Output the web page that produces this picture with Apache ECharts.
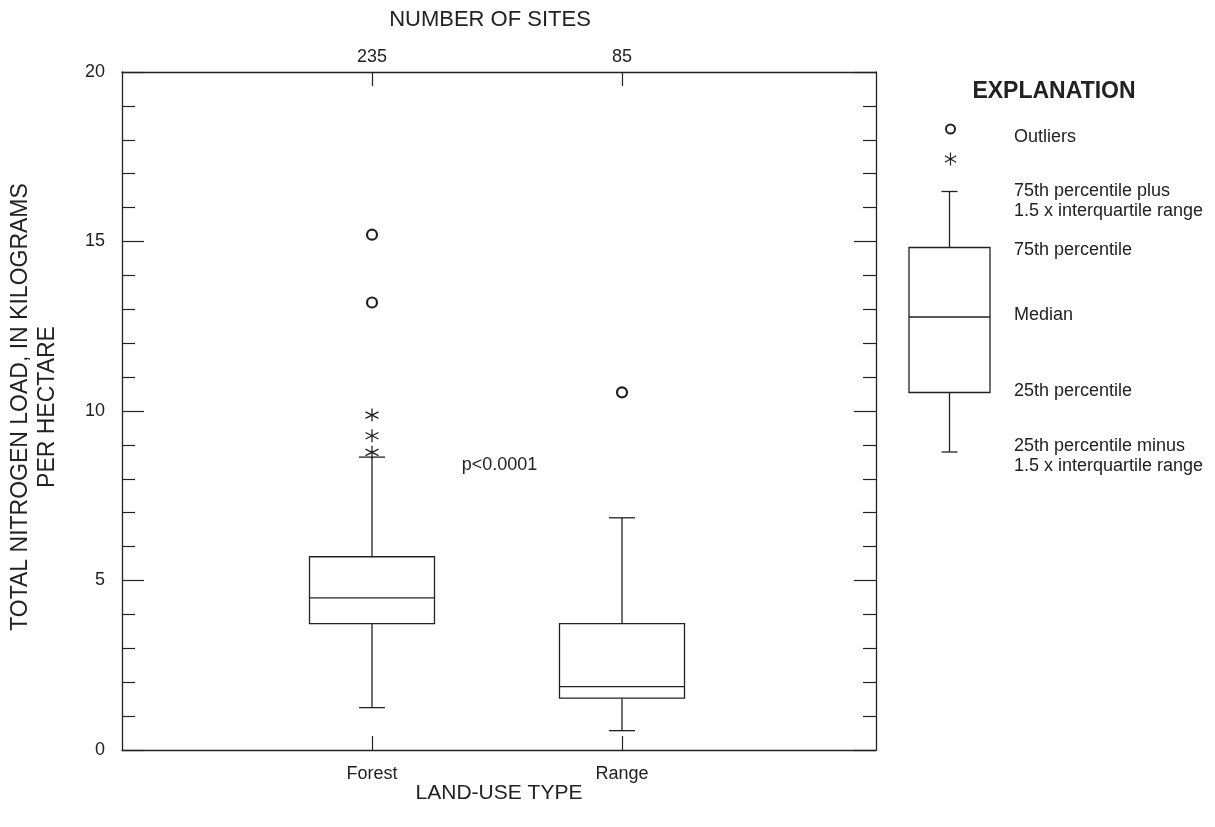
<!DOCTYPE html>
<html>
<head>
<meta charset="utf-8">
<script src="https://cdn.jsdelivr.net/npm/echarts@6/dist/echarts.min.js"></script>
<style>
  html, body { margin: 0; padding: 0; background: #fff; }
  #chart { width: 1215px; height: 827px; }
</style>
</head>
<body>
<div id="chart"></div>
<script>
// Land-use categories and number of sites in each
const categories = ['Forest', 'Range'];
const categoryPositions = [1, 2];
const siteCounts = [235, 85];

// Box statistics: [lower whisker, 25th pct, median, 75th pct, upper whisker]
const forestStats = [1.25, 3.73, 4.49, 5.70, 8.64];
const rangeStats = [0.57, 1.53, 1.87, 3.73, 6.85];

// Outliers beyond the whiskers
const forestCircles = [15.2, 13.2];
const rangeCircles = [10.55];
const forestStars = [9.88, 9.27, 8.78];

// y-axis tick labels
const yTickLabels = [0, 5, 10, 15, 20];

const INK = '#222';
const FONT = '"Liberation Sans", Arial, Helvetica, sans-serif';

const boxData = [
  [categoryPositions[0]].concat(forestStats),
  [categoryPositions[1]].concat(rangeStats)
];
const circleData = forestCircles.map(v => [categoryPositions[0], v])
  .concat(rangeCircles.map(v => [categoryPositions[1], v]));
const starData = forestStars.map(v => [categoryPositions[0], v]);

const starPath = 'path://M0,-10L0,10M-8.66,-5L8.66,5M-8.66,5L8.66,-5';

function renderBox(params, api) {
  const x = api.value(0);
  const lo = api.coord([x, api.value(1)]);
  const q1 = api.coord([x, api.value(2)]);
  const med = api.coord([x, api.value(3)]);
  const q3 = api.coord([x, api.value(4)]);
  const hi = api.coord([x, api.value(5)]);
  const halfW = api.size([0.5, 0])[0] / 2;
  const capHalf = 13;
  const cx = q1[0];
  const style = { stroke: INK, lineWidth: 1.3, fill: null };
  return {
    type: 'group',
    children: [
      { type: 'rect', shape: { x: cx - halfW, y: q3[1], width: 2 * halfW, height: q1[1] - q3[1] }, style: { stroke: INK, lineWidth: 1.3, fill: '#fff' } },
      { type: 'line', shape: { x1: cx - halfW, y1: med[1], x2: cx + halfW, y2: med[1] }, style },
      { type: 'line', shape: { x1: cx, y1: q3[1], x2: cx, y2: hi[1] }, style },
      { type: 'line', shape: { x1: cx, y1: q1[1], x2: cx, y2: lo[1] }, style },
      { type: 'line', shape: { x1: cx - capHalf, y1: hi[1], x2: cx + capHalf, y2: hi[1] }, style },
      { type: 'line', shape: { x1: cx - capHalf, y1: lo[1], x2: cx + capHalf, y2: lo[1] }, style }
    ]
  };
}

// Explanation panel drawn on the right
const legX = 949.5, legHalf = 40.5;
const legTextX = 1014;
const lineStyle = { stroke: INK, lineWidth: 1.3, fill: null };
const legLine = (x1, y1, x2, y2, w) => ({ type: 'line', shape: { x1, y1, x2, y2 }, style: { stroke: INK, lineWidth: w || 1.3 } });
const legText = (t, y) => ({ type: 'text', x: legTextX, y: y, style: { text: t, font: '18px ' + FONT, fill: INK, textVerticalAlign: 'middle' } });
const starX = legX + 1, starY = 159;
const explanation = [
  { type: 'text', x: 1054, y: 92, style: { text: 'EXPLANATION', font: 'bold 23px ' + FONT, fill: INK, textAlign: 'center', textVerticalAlign: 'middle' } },
  { type: 'circle', shape: { cx: legX + 1, cy: 129, r: 4.5 }, style: { stroke: INK, lineWidth: 2, fill: '#fff' } },
  legLine(starX, starY - 6.5, starX, starY + 6.5, 1.2),
  legLine(starX - 5.6, starY - 3.3, starX + 5.6, starY + 3.3, 1.2),
  legLine(starX - 5.6, starY + 3.3, starX + 5.6, starY - 3.3, 1.2),
  legLine(legX - 8, 191.5, legX + 8, 191.5),
  legLine(legX, 191.5, legX, 247.5),
  { type: 'rect', shape: { x: legX - legHalf, y: 247.5, width: 2 * legHalf, height: 145 }, style: lineStyle },
  legLine(legX - legHalf, 317, legX + legHalf, 317),
  legLine(legX, 392.5, legX, 452),
  legLine(legX - 8, 452, legX + 8, 452),
  legText('Outliers', 137),
  legText('75th percentile plus', 191),
  legText('1.5 x interquartile range', 211),
  legText('75th percentile', 250),
  legText('Median', 315),
  legText('25th percentile', 391),
  legText('25th percentile minus', 446),
  legText('1.5 x interquartile range', 466),
  // top axis title
  { type: 'text', x: 490, y: 20, style: { text: 'NUMBER OF SITES', font: '22px ' + FONT, fill: INK, textAlign: 'center', textVerticalAlign: 'middle' } },
  // vertical axis title, two lines
  { type: 'text', x: 21, y: 407, rotation: Math.PI / 2, style: { text: 'TOTAL NITROGEN LOAD, IN KILOGRAMS', font: '23px ' + FONT, fill: INK, textAlign: 'center', textVerticalAlign: 'middle' } },
  { type: 'text', x: 48, y: 407, rotation: Math.PI / 2, style: { text: 'PER HECTARE', font: '23px ' + FONT, fill: INK, textAlign: 'center', textVerticalAlign: 'middle' } }
];

const axisLine = { show: true, onZero: false, lineStyle: { color: INK, width: 1.3 } };
const xTick = { show: true, inside: true, length: 14, customValues: categoryPositions, lineStyle: { color: INK, width: 1.2 } };
const yTick = { show: true, inside: true, length: 22, lineStyle: { color: INK, width: 1.2 } };
const yMinor = { show: true, splitNumber: 5, length: 13, lineStyle: { color: INK, width: 1.2 } };

const chart = echarts.init(document.getElementById('chart'), null, { renderer: 'canvas' });
chart.setOption({
  backgroundColor: '#fff',
  animation: false,
  textStyle: { fontFamily: FONT, color: INK },
  grid: { left: 122, top: 72, right: 339, bottom: 77, containLabel: false },
  xAxis: [
    {
      type: 'value', position: 'bottom', min: 0, max: 3.016,
      axisLine: axisLine, axisTick: xTick, splitLine: { show: false },
      axisLabel: { color: INK, fontSize: 18, margin: 15, customValues: categoryPositions,
        formatter: v => categories[categoryPositions.indexOf(v)] || '' },
      name: 'LAND-USE TYPE', nameLocation: 'middle', nameGap: 33, nameMoveOverlap: false,
      nameTextStyle: { fontSize: 21, color: INK, fontFamily: FONT }
    },
    {
      type: 'value', position: 'top', min: 0, max: 3.016,
      axisLine: axisLine, axisTick: xTick, splitLine: { show: false },
      axisLabel: { color: INK, fontSize: 18, margin: 6, customValues: categoryPositions,
        formatter: v => { const i = categoryPositions.indexOf(v); return i >= 0 ? String(siteCounts[i]) : ''; } }
    }
  ],
  yAxis: [
    {
      type: 'value', position: 'left', min: 0, max: 20, interval: 5,
      axisLine: axisLine, axisTick: yTick, minorTick: yMinor, splitLine: { show: false },
      axisLabel: { color: INK, fontSize: 18, margin: 17, formatter: v => (yTickLabels.indexOf(v) >= 0 ? String(v) : '') }
    },
    {
      type: 'value', position: 'right', min: 0, max: 20, interval: 5,
      axisLine: axisLine, axisTick: yTick, minorTick: yMinor, splitLine: { show: false },
      axisLabel: { show: false }
    }
  ],
  graphic: explanation,
  series: [
    {
      type: 'custom',
      renderItem: renderBox,
      data: boxData,
      encode: { x: 0, y: [1, 2, 3, 4, 5] },
      z: 2
    },
    {
      type: 'scatter',
      data: circleData,
      symbol: 'circle',
      symbolSize: 10,
      itemStyle: { color: '#fff', borderColor: INK, borderWidth: 2.2, opacity: 1 },
      z: 3
    },
    {
      type: 'scatter',
      data: starData,
      symbol: starPath,
      symbolSize: 13,
      itemStyle: { color: 'none', borderColor: INK, borderWidth: 1.3, opacity: 1 },
      z: 3
    },
    {
      type: 'scatter',
      data: [[1.51, 8.4]],
      symbolSize: 0,
      silent: true,
      itemStyle: { opacity: 1 },
      label: { show: true, position: 'inside', formatter: 'p<0.0001', fontSize: 18, color: INK, fontFamily: FONT }
    }
  ]
});
</script>
</body>
</html>
